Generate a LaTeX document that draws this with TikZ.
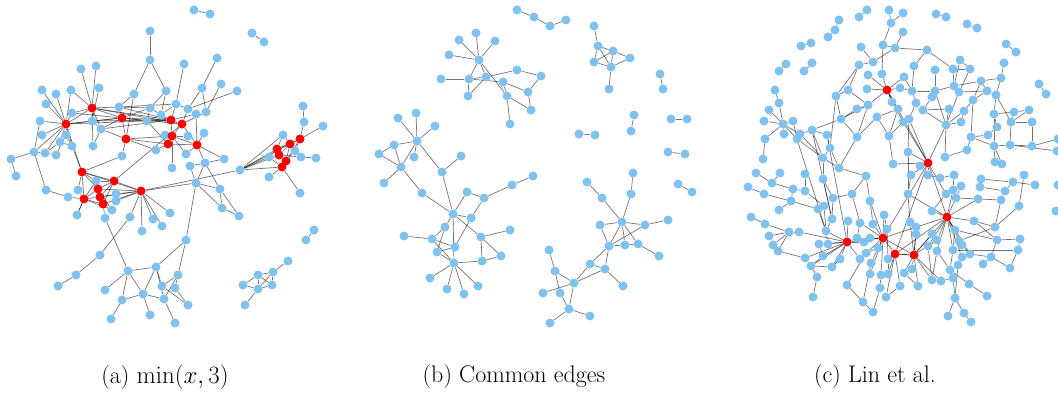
\documentclass[tikz,border=0pt]{standalone}
\usetikzlibrary{backgrounds}
\definecolor{nodeblue}{RGB}{128,193,238}
\definecolor{nodered}{RGB}{255,0,0}
\tikzset{
  vx/.style={circle,fill=nodeblue,inner sep=0pt,minimum size=9pt},
  rx/.style={circle,fill=nodered,inner sep=0pt,minimum size=9pt},
  ed/.style={draw=black,opacity=0.55,line width=0.7pt},
  captext/.style={font=\fontsize{24}{28}\selectfont,inner sep=0pt}
}
\begin{document}
\begin{tikzpicture}[x=1pt,y=-1pt]
\useasboundingbox (0,0) rectangle (1058,404);

% ---------- panel (a): min(x,3) ----------
\foreach \n/\x/\y in {a1/150/31, a2/150/60, a3/81/69, a4/96/66, a5/42/90, a6/56/94, a7/71/90, a8/99/88, a9/46/104, a10/134/94, a11/166/91, a13/72/113, a14/119/107, a15/150/108, a16/161/115, a18/40/121, a19/92/121, a21/147/121, a22/101/129, a23/42/135, a24/66/135, a26/165/135, a28/60/142, a29/72/146, a30/93/146, a31/156/150, a32/34/152, a33/45/153, a34/56/155, a35/122/156, a36/11/159, a38/194/10, a39/210/14, a40/252/33, a41/264/42, a42/217/58, a43/184/64, a44/202/88, a45/221/84, a46/237/91, a47/176/104, a48/188/109, a49/206/112, a50/196/114, a54/188/136, a55/204/133, a57/186/154, a58/224/159, a59/205/163, a60/190/166, a61/172/168, a62/240/170, a63/303/106, a64/304/122, a65/323/126, a66/283/135, a70/295/151, a72/301/157, a73/316/158, a74/269/157, a77/269/177, a78/300/193, a79/196/183, a80/220/189, a81/222/208, a82/239/216, a83/170/213, a84/162/226, a85/186/240, a86/314/230, a87/306/240, a88/288/261, a89/273/272, a90/258/275, a91/243/285, a92/272/285, a93/258/289, a94/245/305, a95/178/275, a96/162/286, a97/175/288, a98/164/299, a99/188/305, a100/175/323, a101/16/176, a102/46/190, a103/68/197, a104/78/190, a105/96/181, a108/116/194, a111/116/201, a113/112/210, a114/77/215, a115/105/218, a117/130/217, a118/153/219, a119/142/231, a120/100/255, a121/76/275, a122/58/286, a123/128/271, a124/156/267, a125/105/290, a127/143/294, a128/122/300, a130/150/315, a131/111/319}
  \node[vx] (\n) at (\x,\y) {};
\foreach \n/\x/\y in {a12/92/108, a17/66/124, a20/122/118, a25/126/139, a27/168/144, a37/82/172, a51/171/120, a52/182/124, a53/172/136, a56/197/145, a67/300/139, a68/290/144, a69/277/149, a71/279/155, a75/286/161, a76/282/167, a106/98/189, a107/114/181, a109/84/199, a110/100/197, a112/103/204, a116/141/191}
  \node[rx] (\n) at (\x,\y) {};

% ---------- panel (b): common edges ----------
\foreach \n/\x/\y in {b1/517/10, b2/534/17, b3/550/26, b4/566/20, b5/476/33, b6/459/40, b7/495/41, b8/449/55, b9/479/60, b10/517/70, b11/441/79, b12/469/79, b13/486/77, b14/503/82, b15/528/92, b16/468/96, b17/507/96, b18/531/110, b19/510/124, b20/541/76, b21/398/118, b22/416/113, b23/435/126, b24/394/145, b25/417/141, b26/379/154, b27/414/157, b28/401/167, b29/461/156, b30/442/172, b31/594/26, b32/598/46, b33/613/51, b34/594/62, b35/611/67, b36/630/58, b37/609/89, b38/660/74, b39/663/89, b40/634/115, b41/631/131, b42/671/119, b43/687/119, b44/579/134, b45/595/135, b46/668/152, b47/685/154, b48/384/183, b49/422/193, b50/467/192, b51/484/198, b52/512/185, b53/533/176, b54/453/214, b55/471/218, b56/445/227, b57/404/236, b58/432/239, b59/481/237, b60/510/230, b61/455/247, b62/437/252, b63/501/256, b64/482/261, b65/454/263, b66/430/278, b67/447/289, b68/464/294, b69/478/286, b70/587/182, b71/602/198, b72/633/173, b73/631/194, b74/678/184, b75/692/192, b76/622/222, b77/600/225, b78/645/225, b79/668/220, b80/609/246, b81/625/245, b82/638/244, b83/659/256, b84/590/264, b85/605/269, b86/549/250, b87/555/271, b88/574/283, b89/543/293, b90/560/293, b91/623/286, b92/569/309, b93/590/316, b94/550/323}
  \node[vx] (\n) at (\x,\y) {};

% ---------- panel (c): Lin et al. ----------
\foreach \n/\x/\y in {c1/889/10, c2/891/23, c3/903/13, c4/867/10, c5/859/17, c6/839/20, c7/835/30, c8/828/37, c9/801/46, c10/811/43, c11/786/64, c12/779/71, c13/812/63, c14/804/71, c15/903/32, c16/861/47, c17/883/45, c18/895/48, c19/873/62, c20/859/65, c21/882/74, c22/868/75, c23/904/77, c24/775/90, c25/848/90, c26/867/89, c28/900/88, c29/779/103, c30/836/96, c31/892/102, c32/769/110, c33/868/105, c34/857/109, c35/898/109, c36/764/121, c37/783/124, c38/793/121, c39/877/117, c40/841/119, c41/903/122, c42/784/134, c43/800/134, c44/812/130, c45/797/139, c46/765/139, c47/827/135, c48/857/137, c49/889/136, c50/830/148, c51/823/158, c52/763/159, c53/893/164, c54/839/168, c56/936/14, c57/946/17, c58/967/24, c59/977/28, c62/927/50, c63/1006/44, c64/1016/52, c65/1004/63, c66/960/60, c67/914/66, c68/935/70, c69/953/69, c70/970/69, c71/1039/84, c72/1046/94, c74/1001/78, c75/981/81, c77/912/91, c78/935/91, c79/954/86, c80/959/92, c81/987/91, c82/996/95, c83/932/97, c84/916/103, c85/973/100, c87/923/110, c88/949/109, c89/964/111, c90/994/114, c91/1014/112, c92/1029/110, c93/909/119, c95/946/125, c96/961/122, c97/1011/122, c98/1032/122, c99/997/127, c100/988/135, c101/971/137, c102/994/146, c103/1010/145, c104/1032/146, c105/1058/139, c106/908/152, c107/967/150, c108/945/157, c110/920/166, c111/995/162, c112/1002/164, c113/1057/151, c114/866/176, c115/756/173, c116/780/173, c117/805/174, c118/823/179, c119/772/183, c120/748/187, c121/793/189, c122/805/191, c123/764/194, c124/852/194, c125/908/194, c126/791/201, c127/833/198, c128/870/201, c129/824/206, c130/818/209, c131/779/210, c132/884/215, c133/751/217, c134/832/219, c135/848/221, c136/860/223, c137/873/224, c138/765/224, c139/789/232, c140/799/232, c141/826/231, c142/769/236, c143/887/229, c145/857/238, c146/864/242, c147/870/238, c149/819/244, c150/828/244, c151/773/245, c152/878/248, c153/778/251, c154/866/253, c156/823/256, c157/805/258, c158/840/259, c159/860/259, c160/888/259, c161/871/263, c162/811/266, c163/832/267, c164/817/277, c165/870/274, c166/881/275, c167/888/274, c168/847/285, c169/880/288, c170/900/286, c171/813/297, c172/886/297, c173/863/302, c174/873/312, c175/911/175, c176/928/175, c177/940/178, c178/954/175, c179/981/179, c180/980/187, c181/961/186, c182/1013/182, c183/1035/185, c184/1024/175, c185/946/194, c186/953/190, c187/956/198, c188/978/199, c189/1005/191, c190/1001/200, c191/1019/206, c192/932/211, c194/974/221, c195/910/222, c196/955/230, c197/995/227, c198/916/227, c199/916/234, c200/932/234, c201/937/240, c202/959/241, c203/997/240, c204/1020/239, c205/928/246, c206/953/250, c207/962/245, c208/1018/250, c209/937/251, c211/970/254, c212/962/257, c213/991/257, c214/983/264, c215/1010/268, c216/950/270, c217/958/265, c218/912/269, c219/904/273, c220/932/280, c221/941/281, c222/953/278, c223/918/286, c224/969/284, c225/987/296, c226/955/298, c227/948/316, c228/964/313, c229/971/322, c230/1056/211, c231/1058/185}
  \node[vx] (\n) at (\x,\y) {};
\foreach \n/\x/\y in {c27/887/90, c109/928/163, c193/947/217, c144/883/238, c148/847/242, c155/895/254, c210/914/255}
  \node[rx] (\n) at (\x,\y) {};

% ---------- edges, drawn beneath the vertices ----------
\begin{pgfonlayer}{background}
\foreach \u/\v in {a1/a2, a2/a10, a2/a11, a3/a12, a4/a12, a5/a17, a6/a17, a7/a17, a7/a12, a8/a19, a9/a17, a10/a14, a10/a25, a11/a15, a11/a16, a12/a13, a12/a17, a12/a19, a12/a14, a12/a20, a12/a22, a13/a17, a14/a15, a14/a20, a15/a20, a15/a16, a15/a21, a17/a18, a17/a19, a17/a23, a17/a24, a17/a28, a17/a29, a17/a32, a17/a37, a19/a20, a19/a22, a20/a21, a20/a25, a20/a22, a22/a25, a21/a16, a21/a27, a25/a35, a25/a27, a26/a27, a31/a27, a28/a33, a29/a37, a30/a12, a32/a36, a32/a33, a33/a34, a34/a24, a35/a37, a12/a51, a17/a51, a20/a51, a14/a47, a25/a31, a18/a32,
  a38/a39, a40/a41, a42/a44, a43/a47, a44/a48, a44/a49, a45/a49, a46/a48, a47/a51, a47/a48, a47/a16, a51/a52, a51/a53, a52/a53, a51/a50, a52/a56, a53/a56, a53/a27, a53/a54, a50/a56, a48/a52, a49/a52, a55/a56, a56/a58, a56/a59, a57/a56, a57/a53, a59/a60, a59/a58, a61/a53, a27/a56, a26/a53, a16/a51,
  a62/a66, a62/a69, a62/a71, a62/a74, a62/a76, a62/a68, a116/a62,
  a63/a64, a64/a67, a65/a67, a66/a68, a67/a68, a67/a69, a67/a70, a68/a69, a68/a71, a69/a71, a69/a75, a70/a75, a71/a72, a71/a75, a72/a73, a75/a76, a74/a69, a74/a76, a76/a77, a76/a78, a66/a69, a67/a75, a68/a75,
  a79/a80, a79/a81, a79/a85, a79/a60, a79/a59, a80/a59, a80/a81, a81/a82, a80/a82, a79/a116, a85/a95, a85/a124, a86/a87,
  a88/a89, a89/a90, a89/a92, a90/a91, a90/a92, a90/a93, a89/a93, a91/a93, a92/a93, a93/a94,
  a95/a96, a95/a97, a97/a99, a98/a100, a96/a99, a95/a98,
  a37/a104, a37/a105, a37/a107, a37/a116, a37/a109, a37/a106, a102/a103, a103/a109, a102/a32, a101/a36, a106/a107, a106/a109, a106/a110, a107/a110, a107/a116, a109/a110, a109/a112, a110/a112, a112/a116, a106/a116, a108/a116, a111/a116, a113/a109, a114/a109, a115/a112, a105/a109, a104/a109, a110/a116, a112/a113, a107/a112, a108/a110, a83/a116,
  a115/a123, a116/a117, a116/a118, a116/a119, a116/a84, a117/a120, a120/a121, a121/a122,
  a123/a124, a123/a125, a123/a127, a123/a128, a127/a128, a127/a130, a124/a96, a124/a98, a127/a98, a128/a131, a124/a127,
  a12/a52, a17/a20, a14/a51, a19/a51, a22/a51, a25/a53, a20/a52, a13/a20, a24/a29, a28/a29, a33/a17, a22/a30, a107/a52, a106/a113, a109/a114, a105/a107}
  \draw[ed] (\u) -- (\v);
\foreach \u/\v in {b1/b2, b2/b3, b3/b4, b9/b5, b9/b6, b9/b7, b9/b8, b9/b12, b9/b13, b9/b17, b11/b12, b12/b14, b12/b16, b13/b16, b13/b10, b10/b20, b20/b15, b15/b18, b14/b15, b14/b17, b17/b19, b17/b18, b12/b13,
  b21/b25, b22/b25, b23/b25, b24/b25, b24/b26, b24/b28, b26/b28, b27/b25, b28/b25, b25/b30, b30/b29, b28/b48, b28/b49,
  b31/b32, b32/b33, b32/b34, b32/b35, b33/b34, b33/b35, b33/b36, b34/b35, b35/b36, b35/b37,
  b38/b39, b40/b41, b42/b43, b44/b45, b46/b47,
  b30/b54, b49/b54, b54/b50, b54/b55, b54/b56, b54/b59, b54/b65, b50/b51, b51/b55, b51/b52, b52/b53, b56/b58, b57/b58, b58/b61, b58/b65, b55/b61, b59/b60, b59/b63, b59/b64, b64/b63, b62/b65, b62/b61, b64/b65, b65/b66, b65/b67, b65/b68, b65/b69, b56/b62,
  b70/b71, b71/b76, b72/b73, b73/b76, b74/b75, b76/b77, b76/b78, b76/b80, b76/b81, b76/b82, b78/b79, b77/b80, b80/b81, b81/b82, b82/b83, b78/b80, b80/b84, b80/b85, b84/b85, b84/b88, b85/b88, b85/b91, b86/b87, b87/b88, b87/b90, b88/b89, b88/b92, b90/b92, b92/b93, b92/b94}
  \draw[ed] (\u) -- (\v);
\foreach \u/\v in {c1/c2, c2/c3, c2/c17, c4/c5, c6/c7, c7/c8, c9/c10, c11/c12, c13/c14, c15/c18, c16/c19, c17/c18, c17/c21, c18/c19, c19/c20, c20/c30, c30/c50, c21/c27, c22/c27, c26/c27, c28/c27, c27/c33, c27/c31, c27/c23, c27/c35, c27/c41, c25/c33, c33/c34, c33/c48, c33/c40, c40/c44, c40/c48, c24/c29, c29/c37, c32/c37, c36/c37, c37/c38, c37/c42, c37/c43, c37/c45, c37/c46, c46/c52, c38/c45, c43/c44, c44/c51, c43/c51, c45/c51, c44/c47, c39/c35, c31/c35, c49/c53, c35/c49, c54/c50, c18/c62, c62/c69, c65/c74, c74/c82, c66/c79, c67/c77, c68/c78, c69/c79, c70/c80, c75/c81, c75/c85, c81/c82, c81/c85, c82/c90, c85/c89, c85/c101, c77/c78, c78/c79, c80/c81, c83/c78, c84/c77, c84/c93, c87/c95, c88/c95, c89/c95, c96/c95, c95/c109, c95/c108, c95/c78, c95/c80, c90/c102, c90/c99, c92/c97, c91/c97, c97/c103, c98/c97, c99/c100, c100/c101, c101/c102, c102/c103, c103/c104, c102/c111, c102/c112, c82/c97, c93/c109, c106/c109, c110/c109, c104/c105, c103/c113, c56/c57, c58/c59, c63/c64, c71/c72, c23/c77, c28/c77,
  c54/c114, c115/c119, c116/c119, c119/c121, c120/c123, c123/c126, c121/c126, c117/c122, c122/c129, c118/c127, c118/c134, c118/c51, c124/c136, c114/c128, c126/c130, c129/c141, c131/c126, c133/c138, c138/c139, c139/c140, c140/c148, c139/c142, c139/c151, c139/c153, c141/c148, c135/c148, c149/c148, c150/c148, c156/c148, c148/c145, c148/c146, c148/c158, c148/c144, c148/c157, c148/c162, c148/c163, c148/c159, c144/c143, c144/c132, c144/c137, c144/c147, c144/c145, c144/c152, c144/c155, c144/c161, c144/c154, c144/c136, c144/c165, c144/c166, c128/c144, c155/c160, c155/c170, c155/c167, c155/c172, c155/c210, c152/c154, c154/c168, c158/c163, c164/c162, c164/c171, c156/c162, c161/c173, c166/c169, c169/c174, c173/c174,
  c109/c176, c109/c185, c109/c193, c109/c155, c109/c144, c109/c175, c176/c177, c177/c178, c178/c186, c179/c180, c179/c182, c182/c183, c184/c191, c191/c197, c197/c202, c180/c189, c181/c187, c186/c193, c187/c193, c188/c193, c193/c194, c193/c192, c193/c196, c193/c201, c193/c205, c193/c206, c193/c209, c193/c210, c193/c207, c193/c155, c193/c125, c196/c203, c203/c204, c206/c208, c211/c213, c213/c215, c214/c213, c210/c219, c210/c218, c210/c223, c210/c220, c210/c221, c210/c201, c210/c155, c195/c210, c198/c210, c199/c210, c200/c210, c209/c216, c216/c224, c221/c222, c222/c226, c212/c217, c217/c226, c226/c227, c226/c228, c228/c229, c224/c225, c185/c186, c190/c197, c211/c193, c212/c193,
  c20/c25, c25/c30, c30/c40, c34/c40, c39/c48, c48/c54, c49/c41, c47/c50, c50/c51, c51/c54, c53/c109, c41/c93, c93/c106, c106/c125, c125/c175, c114/c124, c124/c127, c127/c134, c128/c137, c132/c143, c143/c160, c136/c145, c121/c122, c134/c141, c141/c150, c149/c156, c130/c141, c153/c157, c157/c162, c162/c163, c163/c158, c168/c173, c160/c167, c170/c172, c108/c107, c107/c101, c96/c89, c88/c87, c83/c87, c62/c67, c66/c70, c69/c70, c74/c75, c75/c79, c90/c91, c91/c92, c98/c104, c111/c112, c185/c192, c186/c181, c187/c188, c188/c190, c189/c190, c194/c197, c194/c203, c196/c206, c202/c207, c207/c211, c211/c212, c206/c216, c216/c217, c201/c205, c205/c220, c209/c220, c219/c223, c218/c219, c195/c198, c182/c189, c204/c208, c208/c215, c213/c203, c125/c195, c144/c193, c144/c210, c45/c141, c47/c148, c44/c134, c27/c109, c39/c49, c41/c109}
  \draw[ed] (\u) -- (\v);
\end{pgfonlayer}

% ---------- captions ----------
\node[captext] (capa) at (165,377) {(a) $\min(x,3)$};
\node[captext] (capb) at (514,377) {(b) Common edges};
\node[captext] (capc) at (875,377) {(c) Lin et al.};
\end{tikzpicture}
\end{document}
